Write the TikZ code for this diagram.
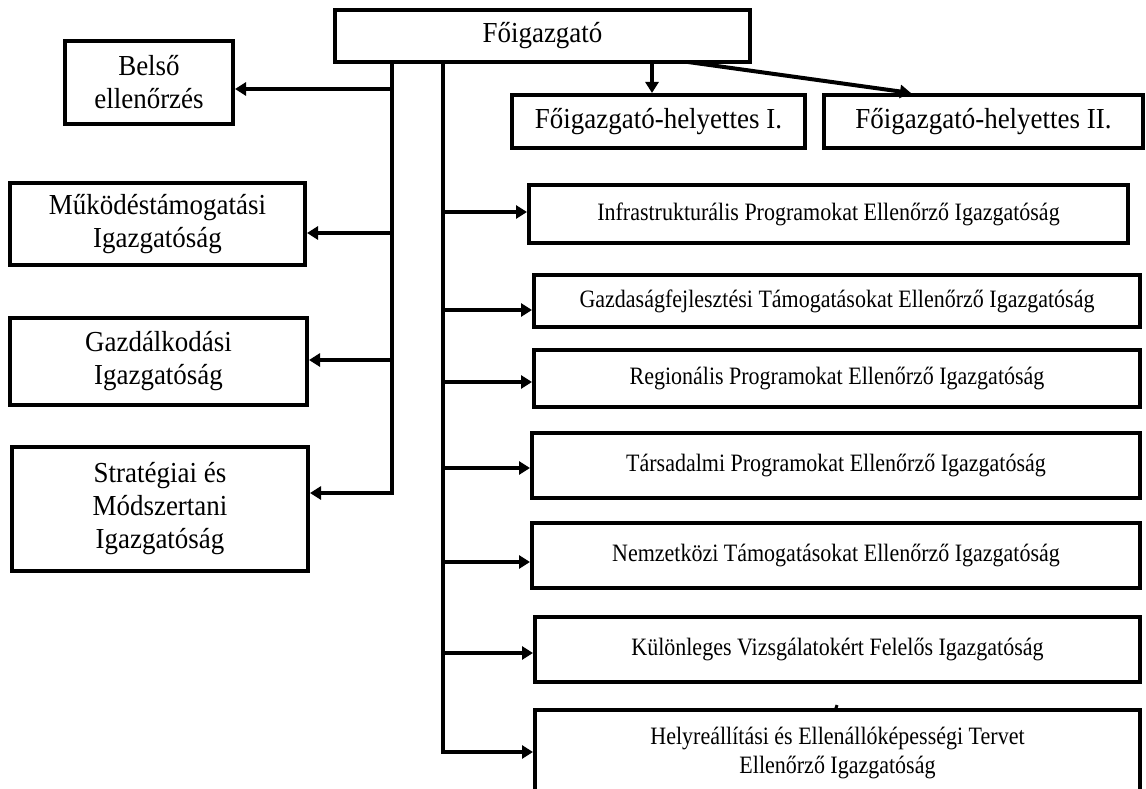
\documentclass[tikz,border=0pt]{standalone}
\usepackage{fontspec}
\setmainfont{Liberation Serif}
\newfontfamily\lserif[FakeStretch=0.93]{Liberation Serif}
\newfontfamily\rserif[FakeStretch=0.88]{Liberation Serif}
\usetikzlibrary{arrows.meta}
\newcommand\bigtxt{\lserif\fontsize{29}{33}\selectfont}
\newcommand\smltxt{\rserif\fontsize{25}{29}\selectfont}
\begin{document}
\begin{tikzpicture}[x=1pt,y=-1pt,
  box/.style={draw, line width=4pt, inner sep=0pt, align=center},
  lbox/.style={box, font=\bigtxt},
  rbox/.style={box, font=\smltxt},
  arr/.style={line width=4pt, -{Triangle[length=11pt,width=13pt]}}]
\clip (0,0) rectangle (1146,789);
\fill[white] (0,0) rectangle (1146,789);
% top
\node[lbox, minimum width=415pt, minimum height=52pt] (main) at (542.5,36) {Főigazgató};
\node[lbox, minimum width=293pt, minimum height=53pt] (fh1) at (658.5,121.5) {Főigazgató-helyettes I.};
\node[lbox, minimum width=319pt, minimum height=53pt] (fh2) at (983.5,121.5) {Főigazgató-helyettes II.};
% left column
\node[lbox, minimum width=168pt, minimum height=83pt] (belso) at (149,82.5) {Belső\\ellenőrzés};
\node[lbox, minimum width=295pt, minimum height=82pt] (muk) at (157.5,224) {Működéstámogatási\\Igazgatóság};
\node[lbox, minimum width=297pt, minimum height=87pt] (gazd) at (158.5,361.5) {Gazdálkodási\\Igazgatóság};
\node[lbox, minimum width=296pt, minimum height=124pt] (strat) at (160,509) {Stratégiai és\\Módszertani\\Igazgatóság};
% right column
\node[rbox, minimum width=599pt, minimum height=58pt] (infra) at (828.5,214) {Infrastrukturális Programokat Ellenőrző Igazgatóság};
\node[rbox, minimum width=606pt, minimum height=52pt] (gazdf) at (837,301) {Gazdaságfejlesztési Támogatásokat Ellenőrző Igazgatóság};
\node[rbox, minimum width=606pt, minimum height=57pt] (reg) at (837,378.5) {Regionális Programokat Ellenőrző Igazgatóság};
\node[rbox, minimum width=608pt, minimum height=65pt] (tars) at (836,465.5) {Társadalmi Programokat Ellenőrző Igazgatóság};
\node[rbox, minimum width=608pt, minimum height=65pt] (nemz) at (836,555.5) {Nemzetközi Támogatásokat Ellenőrző Igazgatóság};
\node[rbox, minimum width=605pt, minimum height=65pt] (kul) at (837.5,649.5) {Különleges Vizsgálatokért Felelős Igazgatóság};
\node[rbox, minimum width=605pt, minimum height=86pt] (helyre) at (837.5,753) {Helyreállítási és Ellenállóképességi Tervet\\Ellenőrző Igazgatóság};
% top connectors
\coordinate (d1) at (652,62);
\draw[arr] (d1) -- (d1 |- fh1.north);
\coordinate (d2) at (688,62);
\draw[arr] (d2) -- ([xshift=89pt]fh2.north west);
% left trunk
\coordinate (t1) at (392,62);
\coordinate (a1) at (392,89);
\coordinate (a2) at (392,233);
\coordinate (a3) at (392,360);
\coordinate (a4) at (392,493);
\draw[arr] (t1) -- (a4) -- (a4 -| strat.east);
\draw[arr] (a1) -- (a1 -| belso.east);
\draw[arr] (a2) -- (a2 -| muk.east);
\draw[arr] (a3) -- (a3 -| gazd.east);
% right trunk
\coordinate (t2) at (443,62);
\coordinate (b1) at (443,212);
\coordinate (b2) at (443,310);
\coordinate (b3) at (443,382);
\coordinate (b4) at (443,468);
\coordinate (b5) at (443,562);
\coordinate (b6) at (443,653);
\coordinate (b7) at (443,752);
\draw[arr] (t2) -- (b7) -- (b7 -| helyre.west);
\draw[arr] (b1) -- (b1 -| infra.west);
\draw[arr] (b2) -- (b2 -| gazdf.west);
\draw[arr] (b3) -- (b3 -| reg.west);
\draw[arr] (b4) -- (b4 -| tars.west);
\draw[arr] (b5) -- (b5 -| nemz.west);
\draw[arr] (b6) -- (b6 -| kul.west);
% small tick
\coordinate (tk) at (835,711);
\draw[line width=3pt] (tk) -- ([xshift=2pt,yshift=6pt]tk);
\end{tikzpicture}
\end{document}
